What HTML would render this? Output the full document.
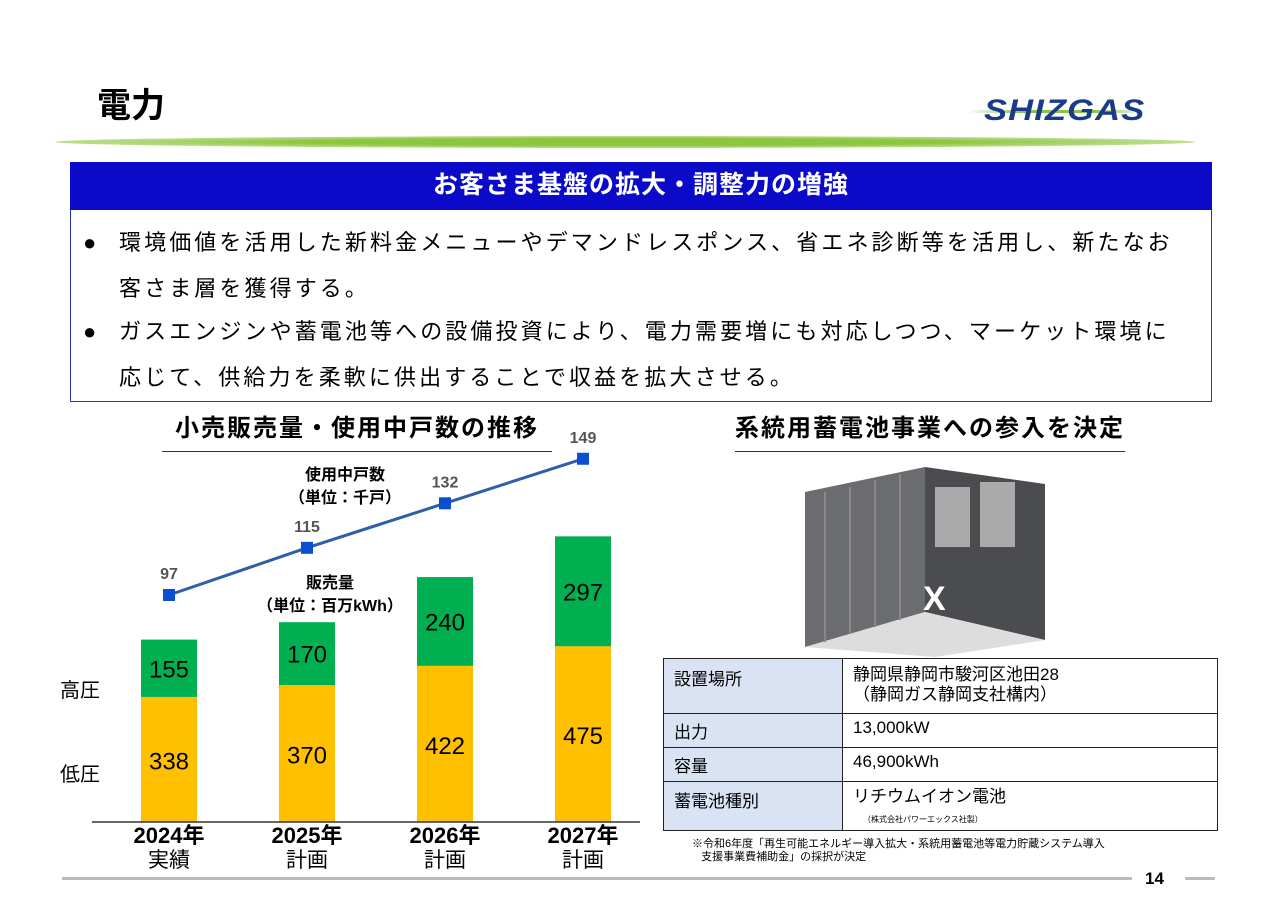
<!DOCTYPE html>
<html><head><meta charset="utf-8"><style>
body{margin:0;width:1280px;height:905px;background:#fff;position:relative;overflow:hidden;font-family:"Liberation Sans","Noto Sans CJK JP",sans-serif;color:#000}
.a{position:absolute}
td{border:1px solid #222;padding:0 10px;vertical-align:top;font-size:17px}
</style></head><body>
<div class="a" style="left:97px;top:78px;font-size:34px;font-weight:bold">電力</div>
<div class="a" style="left:968px;top:96px;width:180px;height:32px">
<div class="a" style="left:0;top:14px;width:180px;height:3px;background:linear-gradient(90deg,#fff,#8bc34a 30%,#8bc34a 70%,#fff)"></div>
<div class="a" style="left:16px;top:-2px;font-size:30px;font-weight:bold;color:#1a3a8a;letter-spacing:1px;font-style:italic;transform:scaleX(1.15);transform-origin:left">SHIZGAS</div></div>
<div class="a" style="left:55px;top:136px;width:1140px;height:12px;border-radius:50%;background:radial-gradient(ellipse at center,#8cc63f 40%,#c5e29a 75%,#fff 100%)"></div>
<div class="a" style="left:70px;top:162px;width:1142px;height:48px;background:#0a0ac8;color:#fff;font-size:25px;font-weight:bold;text-align:center;line-height:46px;letter-spacing:1px">お客さま基盤の拡大・調整力の増強</div>
<div class="a" style="left:70px;top:210px;width:1140px;height:191px;border:1px solid #2233bb;border-top:none;font-size:22px;line-height:46px;letter-spacing:3.1px;white-space:nowrap">
<div class="a" style="left:12px;top:10px">●</div><div class="a" style="left:48px;top:10px">環境価値を活用した新料金メニューやデマンドレスポンス、省エネ診断等を活用し、新たなお<br>客さま層を獲得する。</div>
<div class="a" style="left:12px;top:99px">●</div><div class="a" style="left:48px;top:99px">ガスエンジンや蓄電池等への設備投資により、電力需要増にも対応しつつ、マーケット環境に<br>応じて、供給力を柔軟に供出することで収益を拡大させる。</div></div>
<div class="a" style="left:162px;top:408px;width:390px;text-align:center;font-size:24px;font-weight:bold;border-bottom:1px solid #333;padding-bottom:8px;letter-spacing:2px;white-space:nowrap">小売販売量・使用中戸数の推移</div>
<div class="a" style="left:700px;top:408px;width:460px;text-align:center;font-size:24px;font-weight:bold;letter-spacing:2px;white-space:nowrap"><span style="display:inline-block;border-bottom:1px solid #333;padding:0 0 8px">系統用蓄電池事業への参入を決定</span></div>
<svg class="a" style="left:0;top:0" width="660" height="905" id="ch"></svg>
<svg class="a" style="left:795px;top:462px" width="260" height="200">
<polygon points="10,30 130,5 130,150 10,185" fill="#6a6c70"/>
<polygon points="130,5 250,22 250,178 130,150" fill="#4a4c50"/>
<polygon points="10,185 130,150 250,178 140,195" fill="#ddd"/>
<g stroke="#888" stroke-width="2"><line x1="30" y1="30" x2="30" y2="180"/><line x1="55" y1="25" x2="55" y2="172"/><line x1="80" y1="18" x2="80" y2="165"/><line x1="105" y1="12" x2="105" y2="158"/></g>
<rect x="140" y="25" width="35" height="60" fill="#aaa"/><rect x="185" y="20" width="35" height="65" fill="#aaa"/>
<text x="128" y="148" fill="#fff" font-size="34" font-weight="bold">X</text></svg>
<table class="a" style="left:663px;top:658px;width:555px;border-collapse:collapse">
<tr style="height:55px"><td style="width:158px;background:#dae3f3;padding-top:6px">設置場所</td><td style="padding-top:6px;line-height:20px">静岡県静岡市駿河区池田28<br>（静岡ガス静岡支社構内）</td></tr>
<tr style="height:34px"><td style="background:#dae3f3;padding-top:4px">出力</td><td style="padding-top:4px">13,000kW</td></tr>
<tr style="height:34px"><td style="background:#dae3f3;padding-top:4px">容量</td><td style="padding-top:4px">46,900kWh</td></tr>
<tr style="height:45px"><td style="background:#dae3f3;padding-top:5px">蓄電池種別</td><td style="padding-top:5px;line-height:20px">リチウムイオン電池<br><span style="font-size:8px;margin-left:10px">（株式会社パワーエックス社製）</span></td></tr></table>
<div class="a" style="left:692px;top:838px;font-size:11px;line-height:13px">※令和6年度「再生可能エネルギー導入拡大・系統用蓄電池等電力貯蔵システム導入<br>&nbsp;&nbsp;&nbsp;支援事業費補助金」の採択が決定</div>
<div class="a" style="left:62px;top:877px;width:1070px;height:3px;background:#bbb"></div>
<div class="a" style="left:1185px;top:877px;width:30px;height:3px;background:#bbb"></div>
<div class="a" style="left:1145px;top:869px;font-size:17px;font-weight:bold">14</div>
<script>
const years=["2024年","2025年","2026年","2027年"];
const status=["実績","計画","計画","計画"];
const lowV=[338,370,422,475];
const highV=[155,170,240,297];
const households=[97,115,132,149];
const ns="http://www.w3.org/2000/svg",svg=document.getElementById('ch');
const xc=i=>169+i*138, yb=v=>822-v*0.37, yl=v=>595-(v-97)*2.62;
function mk(t,a,txt){const e=document.createElementNS(ns,t);for(const k in a)e.setAttribute(k,a[k]);if(txt!=null)e.textContent=txt;svg.appendChild(e);return e;}
years.forEach((y,i)=>{
const x=xc(i)-28,t1=yb(lowV[i]),t2=yb(lowV[i]+highV[i]);
const b1=mk('rect',{x:x,y:t1,width:56,height:822-t1,fill:'#ffc000'});

const b2=mk('rect',{x:x,y:t2,width:56,height:t1-t2,fill:'#00b050'});

const l1=mk('text',{x:xc(i),y:(t1+822)/2+10,'text-anchor':'middle','font-size':24},lowV[i]);

const l2=mk('text',{x:xc(i),y:(t1+t2)/2+9,'text-anchor':'middle','font-size':24},highV[i]);

const yr=mk('text',{x:xc(i),y:843,'text-anchor':'middle','font-size':22,'font-weight':'bold'},y);

const st=mk('text',{x:xc(i),y:867,'text-anchor':'middle','font-size':21},status[i]);

});
const ax=mk('line',{x1:92,y1:822,x2:640,y2:822,stroke:'#333','stroke-width':1.5});

const ln=mk('polyline',{points:households.map((v,i)=>xc(i)+','+yl(v)).join(' '),fill:'none',stroke:'#2e5fa8','stroke-width':3});

households.forEach((v,i)=>{
const p=mk('rect',{x:xc(i)-6,y:yl(v)-6,width:12,height:12,fill:'#0a4fd0'});

const t=mk('text',{x:xc(i),y:yl(v)-16,'text-anchor':'middle','font-size':16,'font-weight':'bold',fill:'#555'},v);

});
[["高圧",697],["低圧",781]].forEach(a=>{const t=mk('text',{x:60,y:a[1],'font-size':20},a[0]);
});
[["使用中戸数",480],["（単位：千戸）",503]].forEach(a=>{const t=mk('text',{x:345,y:a[1],'text-anchor':'middle','font-size':16,'font-weight':'bold'},a[0]);
});
[["販売量",588],["（単位：百万kWh）",611]].forEach(a=>{const t=mk('text',{x:330,y:a[1],'text-anchor':'middle','font-size':16,'font-weight':'bold'},a[0]);
});
</script>
</body></html>
